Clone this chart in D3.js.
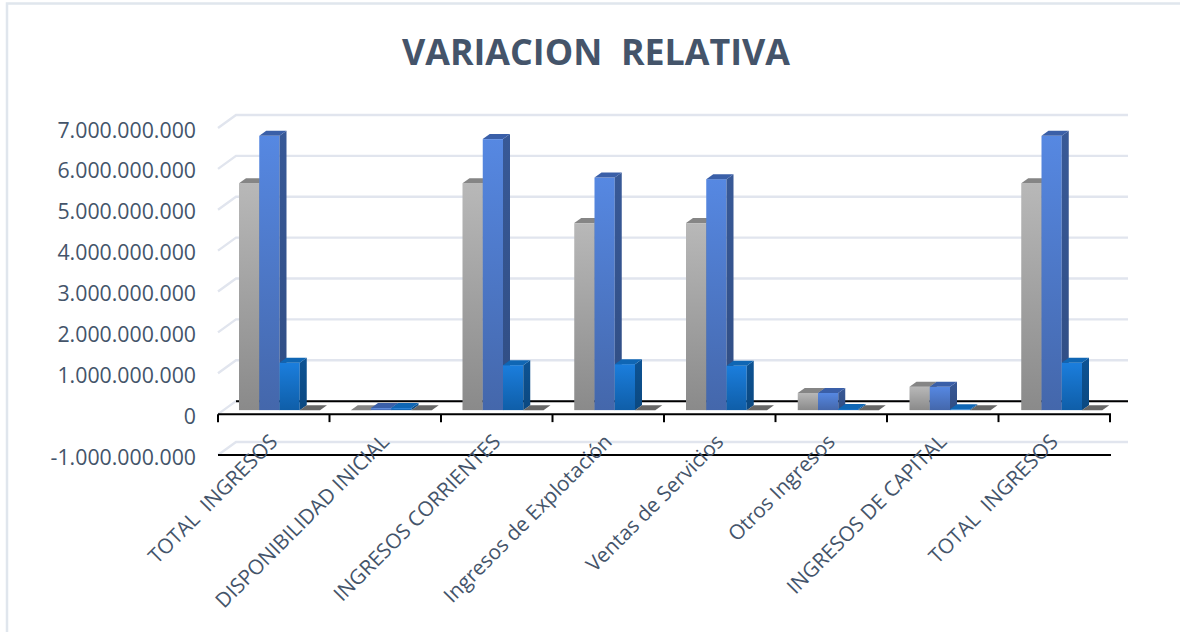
<!DOCTYPE html>
<html><head><meta charset="utf-8">
<script src="https://cdn.jsdelivr.net/npm/d3@7/dist/d3.min.js"></script>
<style>html,body{margin:0;padding:0;background:#fff}svg{display:block}text{font-family:"Open Sans",sans-serif;fill:#44546A;white-space:pre}</style>
</head><body><svg id="c" width="1180" height="632"></svg>
<script>
const title = "VARIACION  RELATIVA";
const categories = ["TOTAL  INGRESOS","DISPONIBILIDAD INICIAL","INGRESOS CORRIENTES","Ingresos de Explotación","Ventas de Servicios","Otros Ingresos","INGRESOS DE CAPITAL","TOTAL  INGRESOS"];
const seriesGray  = [5550000000,0,5550000000,4575000000,4575000000,420000000,570000000,5550000000];
const seriesBlue  = [6710000000,50000000,6630000000,5690000000,5650000000,420000000,570000000,6710000000];
const seriesLight = [1160000000,50000000,1100000000,1125000000,1085000000,30000000,20000000,1160000000];
const seriesDark  = [0,0,0,0,0,0,0,0];
const yTicks = [-1000000000,0,1000000000,2000000000,3000000000,4000000000,5000000000,6000000000,7000000000];
const seriesNames = ["gray","blue","light","dark"];
const seriesValues = [seriesGray,seriesBlue,seriesLight,seriesDark];
const colors = {
  gray:{top:"#b8b8b8",bot:"#8a8a8a",side:"#6f6f6f",cap:"#858585"},
  blue:{top:"#5688e2",bot:"#4467ab",side:"#35548f",cap:"#3a5fa8"},
  light:{top:"#1b7edd",bot:"#0f5ea8",side:"#0c4f8c",cap:"#0f66b4"},
  dark:{top:"#666",bot:"#666",side:"#555",cap:"#666"}
};
const svg = d3.select("#c");
const L=218,R=1110,T=128,B=455,wallX=18,wallY=13,depthX=7,depthY=5,planeY=4;
const x = d3.scaleBand().domain(d3.range(categories.length)).range([L,R]);
const barX = d3.scaleBand().domain(d3.range(categories.length)).range([239,1133]);
const y = d3.scaleLinear().domain([-1000000000,7000000000]).range([B,T]);
const inner = d3.scaleBand().domain(seriesNames).range([0,81]);
const fmt = d3.formatLocale({decimal:",",thousands:".",grouping:[3],currency:["",""],minus:"-"}).format(",d");

// frame
svg.append("path").attr("d","M7,632V3.5H1180").attr("fill","none").attr("stroke","#e0e6ed").attr("stroke-width",2.5);

// title
svg.append("text").attr("x",596).attr("y",65).attr("text-anchor","middle").attr("font-size",35.8).attr("font-weight",700).text(title);

// gradients (one per bar via bounding box)
const defs = svg.append("defs");
seriesNames.forEach(n=>{
  const g=defs.append("linearGradient").attr("id","g-"+n).attr("x1",0).attr("x2",0).attr("y1",0).attr("y2",1);
  g.append("stop").attr("offset",0).attr("stop-color",colors[n].top);
  g.append("stop").attr("offset",1).attr("stop-color",colors[n].bot);
  const s=defs.append("linearGradient").attr("id","s-"+n).attr("x1",0).attr("x2",0).attr("y1",0).attr("y2",1);
  s.append("stop").attr("offset",0).attr("stop-color",d3.color(colors[n].side).brighter(0.15));
  s.append("stop").attr("offset",1).attr("stop-color",d3.color(colors[n].side).darker(0.25));
});

// gridlines: wall + back plane
const grid = svg.append("g");
yTicks.forEach(t=>{
  const py=y(t), isZero=t===0;
  grid.append("path").attr("d",`M${L},${py}L${L+wallX},${py-wallY}H${R+wallX}`)
    .attr("fill","none").attr("stroke","#e1e5ee").attr("stroke-width",2.4);
  if(isZero) grid.append("line").attr("x1",L+wallX).attr("x2",R+wallX).attr("y1",py-wallY).attr("y2",py-wallY)
    .attr("stroke","#000").attr("stroke-width",2);
});

// y axis
const yAxis = svg.append("g").attr("transform",`translate(${L},1)`)
  .call(d3.axisLeft(y).tickValues(yTicks).tickFormat(fmt).tickSize(0).tickPadding(22));
yAxis.select(".domain").remove();
yAxis.selectAll("text").attr("font-size",21.3).attr("font-family",'"Open Sans",sans-serif').attr("fill","#44546A").attr("dy","0.38em");

// x axis at zero
const xAxis = svg.append("g").attr("transform",`translate(0,${y(0)})`);
xAxis.append("line").attr("x1",L).attr("x2",R+1).attr("stroke","#000").attr("stroke-width",2);
xAxis.selectAll(".tk").data(d3.range(categories.length+1)).join("line")
  .attr("x1",i=>L+x.step()*i).attr("x2",i=>L+x.step()*i).attr("y1",0).attr("y2",8).attr("stroke","#000").attr("stroke-width",2);

// bottom line
svg.append("line").attr("x1",L).attr("x2",R+1).attr("y1",y(-1000000000)).attr("y2",y(-1000000000)).attr("stroke","#000").attr("stroke-width",2);

// bars
const bars = svg.append("g");
categories.forEach((c,i)=>{
  seriesNames.forEach((n,si)=>{
    const v=seriesValues[si][i];
    const x0=barX(i)+inner(n), w=inner.bandwidth(), base=y(0)-planeY, top=y(v)-planeY;
    const g=bars.append("g");
    if(top<base){
      g.append("rect").attr("x",x0).attr("y",top).attr("width",w).attr("height",base-top).attr("fill",`url(#g-${n})`);
      g.append("path").attr("d",`M${x0+w},${top}l${depthX},${-depthY}V${base-depthY}l${-depthX},${depthY}Z`).attr("fill",`url(#s-${n})`);
    }
    g.append("path").attr("d",`M${x0},${top}l${depthX},${-depthY}h${w}l${-depthX},${depthY}Z`).attr("fill",colors[n].cap);
  });
});

// category labels
svg.append("g").selectAll("text").data(categories).join("text")
  .attr("text-anchor","end").attr("font-size",20.6)
  .attr("transform",(d,i)=>`translate(${x(i)+x.bandwidth()/2+5},${y(-1000000000)-12}) rotate(-45)`)
  .text(d=>d);
</script></body></html>
